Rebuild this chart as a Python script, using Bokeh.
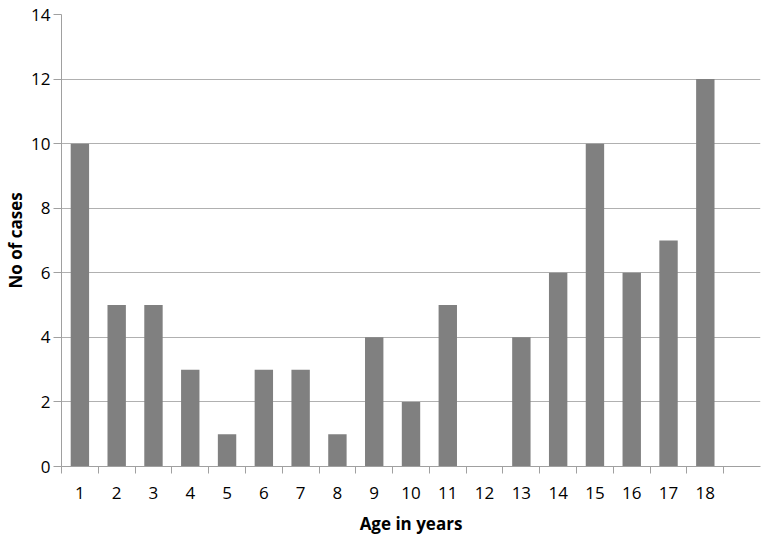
from bokeh.plotting import figure
from bokeh.models import FixedTicker, Range1d, ColumnDataSource
from bokeh.embed import file_html
from bokeh.resources import INLINE

ages = list(range(1, 19))
cases = [10, 5, 5, 3, 1, 3, 3, 1, 4, 2, 5, 0, 4, 6, 10, 6, 7, 12]
y_ticks = [0, 2, 4, 6, 8, 10, 12, 14]

src = ColumnDataSource(dict(x=ages, top=cases))

p = figure(width=768, height=538, output_backend="svg", toolbar_location=None,
           x_range=Range1d(0.5, 19.5), y_range=Range1d(0, 14),
           min_border_left=61, min_border_right=8, min_border_top=14, min_border_bottom=72)
p.outline_line_color = None
p.background_fill_color = "white"

p.vbar(x="x", top="top", width=0.5, bottom=0, source=src, fill_color="#808080", line_color=None)

FONT = "Open Sans"
p.xaxis.ticker = FixedTicker(ticks=ages, minor_ticks=[a + 0.5 for a in range(0, 19)])
p.xaxis.major_tick_line_color = None
p.xaxis.major_tick_out = 0
p.xaxis.major_tick_in = 0
p.xaxis.minor_tick_out = 7
p.xaxis.minor_tick_in = 0
p.xaxis.minor_tick_line_color = "#a0a0a0"
p.xaxis.axis_line_color = "#a0a0a0"
p.xaxis.major_label_standoff = 13
p.xaxis.axis_label = "Age in years"
p.xaxis.axis_label_standoff = 10

p.yaxis.ticker = FixedTicker(ticks=y_ticks)
p.yaxis.major_tick_out = 8
p.yaxis.major_tick_in = 0
p.yaxis.minor_tick_line_color = None
p.yaxis.major_tick_line_color = "#a0a0a0"
p.yaxis.axis_line_color = "#a0a0a0"
p.yaxis.major_label_standoff = 3
p.yaxis.axis_label = "No of cases"
p.yaxis.axis_label_standoff = 1

for ax in (p.xaxis, p.yaxis):
    ax.major_label_text_font = FONT
    ax.major_label_text_font_size = "17px"
    ax.major_label_text_color = "#000000"
    ax.axis_label_text_font = FONT
    ax.axis_label_text_font_size = "17px"
    ax.axis_label_text_font_style = "bold"
    ax.axis_label_text_color = "#000000"

p.xgrid.grid_line_color = None
p.ygrid.ticker = FixedTicker(ticks=y_ticks)
p.ygrid.grid_line_color = "#b0b0b0"
p.ygrid.grid_line_width = 1

open("out.html", "w").write(file_html(p, INLINE))
